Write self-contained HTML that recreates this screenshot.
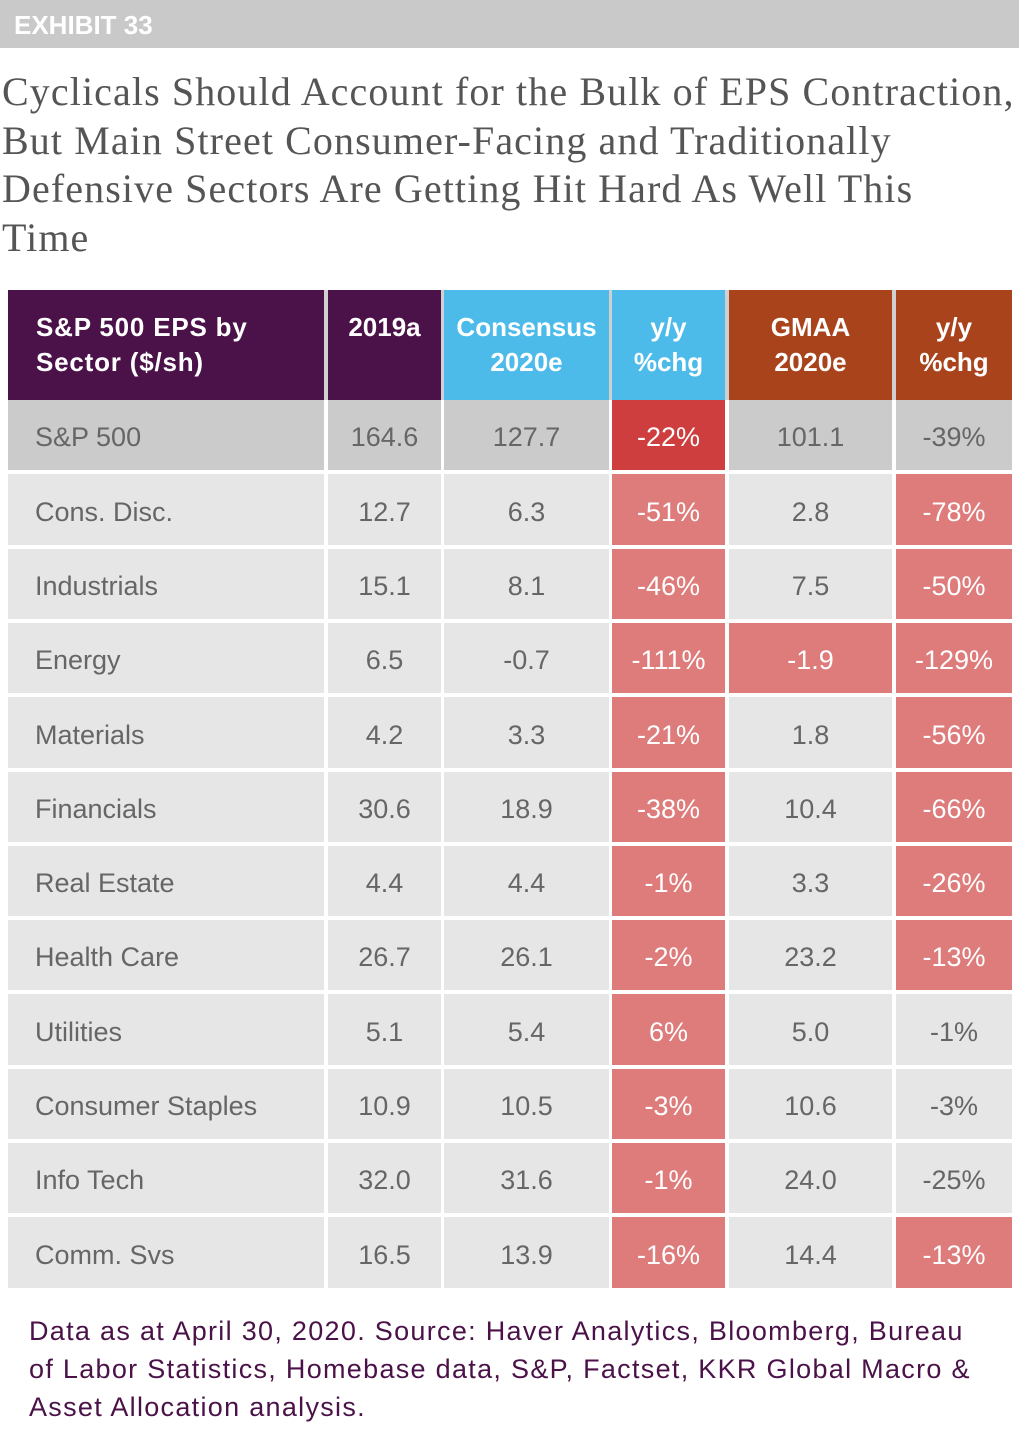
<!DOCTYPE html>
<html><head><meta charset="utf-8"><style>
body{margin:0;width:1021px;height:1434px;background:#fff;font-family:"Liberation Sans",sans-serif;position:relative;overflow:hidden}
#bar{position:absolute;left:0;top:0;width:1019px;height:48px;background:#c9c9c9;color:#fff;font-weight:bold;font-size:26px;line-height:50px;padding-left:14px;box-sizing:border-box}
#title{position:absolute;left:2px;top:68px;width:1019px;font-family:"Liberation Serif",serif;font-size:40px;line-height:48.5px;color:#555;letter-spacing:1.1px;white-space:nowrap}
#tbl{position:absolute;left:0;top:0}
.c{position:absolute;display:flex;align-items:center;justify-content:center;font-size:27px;color:#666;box-sizing:border-box;padding-top:5px}
.h{color:#fff;font-weight:bold;font-size:26px;text-align:center;line-height:35px;align-items:flex-start;padding-top:20px}
#note{position:absolute;left:29px;top:1312px;width:990px;font-size:27px;line-height:38px;color:#4a1248;white-space:nowrap;letter-spacing:1.3px}
</style></head><body>
<div id="bar">EXHIBIT 33</div>
<div id="title">Cyclicals Should Account for the Bulk of EPS Contraction,<br>But Main Street Consumer-Facing and Traditionally<br>Defensive Sectors Are Getting Hit Hard As Well This<br>Time</div>
<div id="tbl"></div>
<div id="note">Data as at April 30, 2020. Source: Haver Analytics, Bloomberg, Bureau<br>of Labor Statistics, Homebase data, S&amp;P, Factset, KKR Global Macro &amp;<br>Asset Allocation analysis.</div>
<script>
const sectors=["S&P 500","Cons. Disc.","Industrials","Energy","Materials","Financials","Real Estate","Health Care","Utilities","Consumer Staples","Info Tech","Comm. Svs"];
const eps2019=["164.6","12.7","15.1","6.5","4.2","30.6","4.4","26.7","5.1","10.9","32.0","16.5"];
const cons2020=["127.7","6.3","8.1","-0.7","3.3","18.9","4.4","26.1","5.4","10.5","31.6","13.9"];
const consChg=["-22%","-51%","-46%","-111%","-21%","-38%","-1%","-2%","6%","-3%","-1%","-16%"];
const gmaa2020=["101.1","2.8","7.5","-1.9","1.8","10.4","3.3","23.2","5.0","10.6","24.0","14.4"];
const gmaaChg=["-39%","-78%","-50%","-129%","-56%","-66%","-26%","-13%","-1%","-3%","-25%","-13%"];
const consHot=[1,1,1,1,1,1,1,1,1,1,1,1];
const gmaaHot=[0,0,0,1,0,0,0,0,0,0,0,0];
const chgHot=[0,1,1,1,1,1,1,1,0,0,0,1];
const headers=["S&P 500 EPS by<br>Sector ($/sh)","2019a","Consensus<br>2020e","y/y<br>%chg","GMAA<br>2020e","y/y<br>%chg"];
const hcol=["#4a1248","#4a1248","#4dbbea","#4dbbea","#a8431c","#a8431c"];
const colX=[8,328,444,612,729,896],colW=[316,113,165,113,163,116];
const t=document.getElementById('tbl');
function cell(x,y,w,h,bg,txt,cls,name){const d=document.createElement('div');d.className='c'+(cls?' '+cls:'');


d.style.cssText=`left:${x}px;top:${y}px;width:${w}px;height:${h}px;background:${bg}`;d.innerHTML=txt;t.appendChild(d);return d;}
const hb=document.createElement('div');hb.style.cssText='position:absolute;left:8px;top:290px;width:1004px;height:110px;background:#d0d0d0';


t.appendChild(hb);
headers.forEach((h,i)=>{const d=cell(colX[i],290,colW[i],110,hcol[i],h,'h','header-cell');if(i==0){d.style.justifyContent='flex-start';d.style.textAlign='left';d.style.paddingLeft='28px';d.style.letterSpacing='0.8px'}});
const rowH=74.3,top0=400;
sectors.forEach((s,r)=>{const y=Math.round(top0+r*rowH),h=Math.round(top0+(r+1)*rowH)-y-4;
const base=r==0?'#cbcbcb':'#e6e6e6';
const vals=[s,eps2019[r],cons2020[r],consChg[r],gmaa2020[r],gmaaChg[r]];
const hot=[0,0,0,consHot[r],gmaaHot[r],chgHot[r]];
vals.forEach((v,i)=>{let bg=base,col='#666';
if(hot[i]){bg=(r==0&&i==3)?'#cf3e3e':'#de7b7b';col='#fff'}
const d=cell(colX[i],y,colW[i],h,bg,v,'','cell-'+r+'-'+i);d.style.color=col;
if(i==0){d.style.justifyContent='flex-start';d.style.paddingLeft='27px'}});});
</script>
</body></html>
